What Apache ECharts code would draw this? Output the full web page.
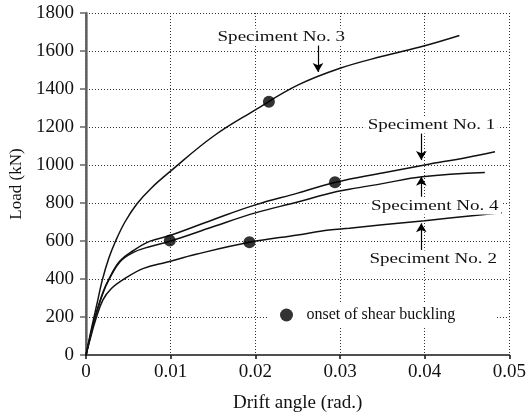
<!DOCTYPE html>
<html>
<head>
<meta charset="utf-8">
<script src="https://cdn.jsdelivr.net/npm/echarts@6/dist/echarts.min.js"></script>
<style>
  html, body { margin: 0; padding: 0; background: #fff; }
  #chart { width: 529px; height: 418px; }
</style>
</head>
<body>
<div id="chart"></div>
<script>
  // values: drift angle (rad.) / load (kN)
  const driftS1 = [0, 0.0005, 0.0011, 0.002, 0.0027, 0.004, 0.0056, 0.0075, 0.01, 0.015, 0.02, 0.025, 0.0295, 0.035, 0.04, 0.045, 0.0483];
  const loadS1 = [0, 100, 205, 330, 400, 495, 550, 598, 630, 712, 790, 852, 909, 958, 1000, 1040, 1070];

  const driftS2 = [0, 0.0005, 0.0011, 0.002, 0.003, 0.0045, 0.0068, 0.0095, 0.013, 0.0193, 0.025, 0.0287, 0.0311, 0.035, 0.04, 0.0491];
  const loadS2 = [0, 85, 180, 290, 350, 400, 456, 488, 530, 593, 632, 658, 667, 685, 707, 749];

  const driftS3 = [0, 0.0007, 0.0013, 0.0019, 0.0027, 0.0035, 0.0046, 0.006, 0.0077, 0.01, 0.015, 0.02, 0.025, 0.03, 0.035, 0.04, 0.0441];
  const loadS3 = [0, 150, 270, 390, 510, 600, 700, 795, 878, 968, 1150, 1290, 1420, 1509, 1572, 1628, 1682];

  const driftS4 = [0, 0.0005, 0.0011, 0.002, 0.0027, 0.004, 0.0056, 0.0075, 0.01, 0.015, 0.02, 0.025, 0.0287, 0.0311, 0.035, 0.0397, 0.0471];
  const loadS4 = [0, 95, 200, 325, 395, 490, 540, 570, 600, 675, 748, 805, 850, 872, 902, 938, 960];

  // onset of shear buckling
  const bucklingDrift = [0.0099, 0.0193, 0.0216, 0.0294];
  const bucklingLoad = [602, 593, 1333, 909];

  // specimen labels and their arrows
  const labelTexts = ['Speciment No. 3', 'Speciment No. 1', 'Speciment No. 4', 'Speciment No. 2'];
  const labelDrift = [0.02306, 0.0408, 0.0412, 0.0410];
  const labelLoad = [1674, 1211, 784, 505];
  const arrowDrift = [0.0274, 0.0396, 0.0396, 0.0396];
  const arrowFrom = [1635, 1168, 833, 553];
  const arrowTo = [1490, 1026, 938, 693];

  const xTicks = [0, 0.01, 0.02, 0.03, 0.04, 0.05];
  const yTicks = [0, 200, 400, 600, 800, 1000, 1200, 1400, 1600, 1800];

  const pairs = (xs, ys) => xs.map((x, i) => [x, ys[i]]);
  const font = '"Liberation Serif", "Times New Roman", serif';
  const dots = { color: '#333', width: 1, type: [1, 2] };

  let chart = echarts.init(document.getElementById('chart'));

  const curve = (name, xs, ys) => ({
    name: name,
    type: 'line',
    data: pairs(xs, ys),
    smooth: 0.4,
    showSymbol: false,
    silent: true,
    lineStyle: { color: '#111', width: 1.5 },
    z: 3
  });

  var option = {
    animation: false,
    backgroundColor: '#fff',
    grid: { left: 86, right: 18, top: 13, bottom: 63 },
    legend: {
      data: [{ name: 'onset of shear buckling', icon: 'circle' }],
      left: 269,
      top: 303,
      itemWidth: 30,
      itemHeight: 13,
      padding: [4, 40, 4, 11],
      backgroundColor: '#fff',
      selectedMode: false,
      textStyle: { fontFamily: font, fontSize: 16, color: '#111' }
    },
    xAxis: [{
      type: 'value',
      min: xTicks[0],
      max: xTicks[xTicks.length - 1],
      interval: 0.01,
      name: 'Drift angle (rad.)',
      nameLocation: 'middle',
      nameGap: 39,
      nameTextStyle: { fontFamily: font, fontSize: 19, color: '#111' },
      axisLine: { lineStyle: { color: '#111', width: 1.5 } },
      axisTick: { length: 4, lineStyle: { color: '#111', width: 1.5 } },
      axisLabel: {
        fontFamily: font, fontSize: 19, color: '#111', margin: 8,
        showMinLabel: true, showMaxLabel: true,
        formatter: v => v === 0 ? '0' : v.toFixed(2)
      },
      splitLine: { show: true, lineStyle: dots }
    }, {
      // top frame
      type: 'value',
      position: 'top',
      min: xTicks[0],
      max: xTicks[xTicks.length - 1],
      interval: 0.01,
      axisLine: { show: true, lineStyle: { color: '#555', width: 1.5 } },
      axisTick: { show: false },
      axisLabel: { show: false },
      splitLine: { show: false }
    }],
    yAxis: [{
      type: 'value',
      min: yTicks[0],
      max: yTicks[yTicks.length - 1],
      interval: 200,
      name: 'Load (kN)',
      nameLocation: 'middle',
      nameRotate: 90,
      nameGap: 61,
      nameTextStyle: { fontFamily: font, fontSize: 17, color: '#111' },
      axisLine: { show: true, lineStyle: { color: '#777', width: 2.5 } },
      axisTick: { show: true, length: 6, lineStyle: { color: '#666', width: 1.5 } },
      axisLabel: { fontFamily: font, fontSize: 19, color: '#111', margin: 12, formatter: v => String(v) },
      splitLine: { show: true, lineStyle: dots }
    }, {
      // right frame
      type: 'value',
      position: 'right',
      min: yTicks[0],
      max: yTicks[yTicks.length - 1],
      interval: 200,
      axisLine: { show: true, lineStyle: { color: '#555', width: 1.5, type: [2, 1] } },
      axisTick: { show: false },
      axisLabel: { show: false },
      splitLine: { show: false }
    }],
    series: [
      curve('Specimen No. 1', driftS1, loadS1),
      curve('Specimen No. 2', driftS2, loadS2),
      curve('Specimen No. 3', driftS3, loadS3),
      curve('Specimen No. 4', driftS4, loadS4),
      {
        name: 'onset of shear buckling',
        type: 'scatter',
        data: pairs(bucklingDrift, bucklingLoad),
        symbol: 'circle',
        symbolSize: 12,
        itemStyle: { color: '#000' },
        silent: true,
        z: 5,
        markLine: {
          silent: true,
          symbol: ['none', 'arrow'],
          symbolSize: [8, 9],
          label: { show: false },
          lineStyle: { color: '#000', width: 1.2, type: 'solid' },
          data: arrowDrift.map((d, i) => [
            { coord: [d, arrowFrom[i]] },
            { coord: [d, arrowTo[i]] }
          ])
        }
      }
    ]
  };
  chart.setOption(option);

  // specimen labels, placed from data coordinates
  const graphics = labelTexts.map((t, i) => {
    const p = chart.convertToPixel({ gridIndex: 0 }, [labelDrift[i], labelLoad[i]]);
    return {
      type: 'text',
      x: p[0],
      y: p[1],
      scaleX: 1.27,
      z: 100,
      silent: true,
      style: {
        text: t,
        fontFamily: font,
        fontSize: 15,
        fill: '#111',
        align: 'center',
        verticalAlign: 'middle',
        backgroundColor: '#fff',
        padding: [1, 2]
      }
    };
  });
  chart.setOption({ graphic: graphics });
</script>
</body>
</html>
